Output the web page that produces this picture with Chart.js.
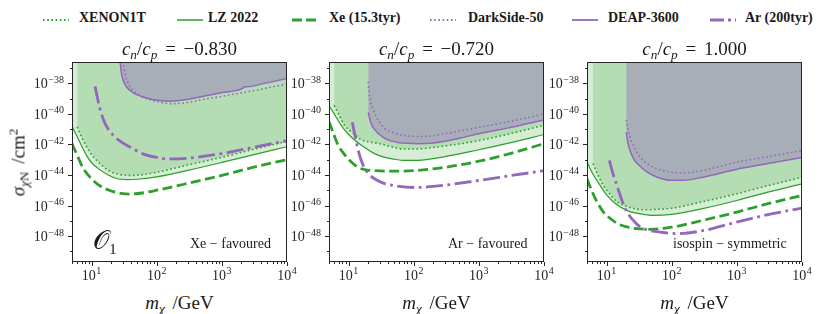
<!DOCTYPE html>
<html lang="en">
<head>
<meta charset="UTF-8" />
<title>O1 exclusion limits vs isospin ratio</title>
<script src="https://cdn.jsdelivr.net/npm/chart.js"></script>
<style>
  body { margin: 0; width: 830px; height: 314px; background: #fff; position: relative; overflow: hidden;
         font-family: 'Liberation Serif', 'DejaVu Serif', serif; color: #1a1a1a; }
  .abs { position: absolute; line-height: 1; white-space: nowrap; }
  .panel { position: absolute; top: 56px; }
  .leg { font-weight: bold; font-size: 14px; top: 11px; }
  .ttl { font-size: 19px; word-spacing: 3px; width: 215px; text-align: center; top: 39px; }
  .xl { font-size: 19px; word-spacing: 3px; width: 215px; text-align: center; top: 293px; }
  .note { font-size: 14px; top: 237px; }
  sub, sup { font-size: 70%; line-height: 0; }
  sub { vertical-align: -0.3em; }
  sup { vertical-align: 0.55em; }
</style>
</head>
<body>
<div id="root"></div>
<script>
  // each point: [m_chi in GeV, log10(sigma / cm^2)]
  // panel 1: cn/cp = -0.830
  const xenon1t_1 = [[6,-40.85],[7,-41.5],[9.4,-42.5],[13,-43.2],[19,-43.75],[28,-43.98],[40,-44.03],[60,-43.98],[100,-43.82],[300,-43.35],[1000,-42.84],[3000,-42.33],[10000,-41.8]];
  const lz_1 = [[5,-40.8],[6,-41.5],[8.3,-42.7],[10,-43.2],[13.3,-43.65],[18,-44.0],[25,-44.25],[35,-44.3],[50,-44.28],[100,-44.12],[300,-43.7],[1000,-43.18],[3000,-42.68],[10000,-42.15]];
  const xe_1 = [[5,-41.95],[6,-42.7],[7.5,-43.6],[10,-44.25],[13.3,-44.7],[20,-45.05],[30,-45.22],[40,-45.25],[60,-45.18],[100,-45.0],[300,-44.55],[1000,-44.03],[3000,-43.5],[10000,-43.0]];
  const darkside_1 = [[29,-36.0],[30.7,-36.75],[33,-37.45],[36,-37.95],[41,-38.37],[50,-38.7],[62,-38.92],[85,-39.12],[112,-39.24],[160,-39.33],[250,-39.3],[520,-39.05],[1000,-38.85],[2140,-38.6],[10000,-38.05]];
  const deap_1 = [[25.5,-36.0],[27.3,-36.63],[29,-37.45],[31.5,-37.95],[34.6,-38.26],[40,-38.5],[46.5,-38.69],[60,-38.88],[79,-39.02],[110,-39.13],[160,-39.17],[300,-39.05],[520,-38.85],[1000,-38.6],[2100,-38.33],[2250,-38.22],[2500,-38.22],[4000,-38.05],[10000,-37.68]];
  const ar_1 = [[11.3,-38.2],[13.3,-39.6],[16,-40.6],[21.5,-41.4],[30,-41.9],[40,-42.2],[60,-42.6],[100,-42.85],[150,-42.95],[300,-42.9],[1000,-42.6],[3000,-42.2],[10000,-41.75]];

  // panel 2: cn/cp = -0.720
  const xenon1t_2 = [[6,-39.45],[7,-40.0],[8.7,-40.75],[12,-41.3],[15.7,-41.7],[22,-41.85],[30,-41.95],[45,-42.15],[70,-42.3],[100,-42.3],[300,-42.1],[1000,-41.75],[3000,-41.3],[10000,-40.75]];
  const lz_2 = [[5,-39.45],[6,-40.0],[7.7,-40.75],[10,-41.35],[15.7,-42.05],[25,-42.6],[36,-42.85],[50,-42.97],[72,-43.05],[100,-43.05],[300,-42.8],[1000,-42.35],[3000,-41.9],[10000,-41.35]];
  const xe_2 = [[5,-40.5],[6,-41.4],[6.9,-42.05],[9,-42.75],[11,-43.15],[14,-43.5],[17.6,-43.65],[25,-43.72],[36,-43.75],[60,-43.75],[100,-43.72],[300,-43.5],[1000,-43.1],[3000,-42.6],[10000,-41.95]];
  const darkside_2 = [[20,-37.9],[20.5,-38.5],[21.5,-39.1],[23.6,-39.67],[26,-40.1],[30,-40.55],[36,-40.95],[50,-41.25],[72,-41.42],[146,-41.48],[300,-41.3],[1000,-40.88],[3000,-40.5],[10000,-40.0]];
  const deap_2 = [[20,-39.9],[21,-40.3],[22.5,-40.7],[26,-41.1],[32,-41.45],[40,-41.7],[57,-41.87],[80,-41.93],[115,-41.95],[200,-41.9],[500,-41.6],[1000,-41.3],[3000,-40.9],[10000,-40.4]];
  const ar_2 = [[11.4,-40.55],[12.5,-41.4],[13.9,-42.3],[15.5,-43.0],[17.6,-43.55],[21,-44.0],[25,-44.25],[35,-44.55],[51,-44.7],[103,-44.82],[200,-44.75],[1000,-44.36],[3000,-44.05],[10000,-43.72]];

  // panel 3: cn/cp = 1.000
  const xenon1t_3 = [[6.2,-43.25],[7,-43.8],[9,-44.7],[11,-45.2],[14.4,-45.75],[20,-46.05],[28,-46.22],[37,-46.28],[60,-46.25],[100,-46.18],[300,-45.75],[1000,-45.23],[3000,-44.7],[10000,-44.15]];
  const lz_3 = [[5,-43.15],[6,-43.85],[8,-44.7],[10,-45.3],[14.4,-45.95],[20,-46.3],[26,-46.47],[40,-46.6],[52,-46.65],[100,-46.58],[300,-46.2],[1000,-45.67],[3000,-45.12],[10000,-44.58]];
  const xe_3 = [[5,-44.25],[6,-45.1],[7.1,-45.75],[9,-46.45],[11.4,-46.85],[15,-47.2],[20.4,-47.4],[30,-47.52],[47,-47.56],[100,-47.42],[300,-46.97],[1000,-46.43],[3000,-45.88],[10000,-45.35]];
  const darkside_3 = [[20,-40.39],[21.7,-41.2],[25.9,-42.07],[32.7,-42.84],[46.6,-43.38],[84,-43.77],[151,-43.86],[300,-43.7],[1000,-43.16],[3000,-42.8],[10000,-42.4]];
  const deap_3 = [[20,-41.2],[21,-41.8],[22.5,-42.3],[26,-42.94],[33,-43.45],[41.5,-43.8],[60,-44.15],[94,-44.35],[150,-44.35],[300,-44.15],[1000,-43.62],[3000,-43.25],[10000,-42.85]];
  const ar_3 = [[11,-43.05],[12.5,-43.9],[14.4,-44.69],[17,-45.6],[20.4,-46.4],[26,-47.0],[33,-47.41],[45,-47.62],[66,-47.74],[120,-47.84],[300,-47.65],[1000,-47.08],[3000,-46.6],[10000,-46.17]];

  const seriesNames = ['XENON1T', 'LZ 2022', 'Xe (15.3tyr)', 'DarkSide-50', 'DEAP-3600', 'Ar (200tyr)'];
  const ratios = ['\u22120.830', '\u22120.720', '1.000'];
  const notes = ['Xe \u2212 favoured', 'Ar \u2212 favoured', 'isospin \u2212 symmetric'];
  const yTickExps = [-48, -46, -44, -42, -40, -38];
  const xTickExps = [1, 2, 3, 4];

  const panelData = [
    [xenon1t_1, lz_1, xe_1, darkside_1, deap_1, ar_1],
    [xenon1t_2, lz_2, xe_2, darkside_2, deap_2, ar_2],
    [xenon1t_3, lz_3, xe_3, darkside_3, deap_3, ar_3]
  ];

  const GREEN = '#2ca02c', PURPLE = '#9467bd';
  const styles = [
    { color: GREEN, width: 1.6, dash: [1.6, 2.6], fill: 'rgba(44,160,44,0.2)', leg: '1.6,2.6' },
    { color: GREEN, width: 1.2, dash: [], fill: 'rgba(44,160,44,0.2)', leg: '' },
    { color: GREEN, width: 2.8, dash: [10, 4.5], leg: '10,4' },
    { color: PURPLE, width: 1.6, dash: [1.6, 2.6], leg: '1.6,2.6' },
    { color: PURPLE, width: 1.5, dash: [], fill: 'rgba(148,103,189,0.4)', leg: '' },
    { color: PURPLE, width: 2.8, dash: [17, 4.5, 2.8, 4.5], leg: '14,4,3,4' }
  ];
  // draw order: index 0 ends up on top in chart.js
  const drawOrder = [4, 3, 5, 0, 1, 2];

  const plotLefts = [72, 329, 587];
  const AXW = 62, PLOTW = 215, PADR = 16;
  const root = document.getElementById('root');

  function addText(cls, html, left, extra) {
    const d = document.createElement('div');
    d.className = 'abs ' + cls;
    d.innerHTML = html;
    d.style.left = left + 'px';
    if (extra) Object.assign(d.style, extra);
    root.appendChild(d);
    return d;
  }

  // legend
  const legMarkX = [43, 177, 292, 430, 572, 710];
  const legTextX = [79, 208, 329, 468, 608, 745];
  seriesNames.forEach((name, i) => {
    const s = styles[i];
    addText('', `<svg width="26" height="10"><line x1="0" y1="5" x2="26" y2="5" stroke="${s.color}" stroke-width="${Math.min(s.width + 0.3, 3)}" ${s.leg ? 'stroke-dasharray="' + s.leg + '"' : ''}/></svg>`, legMarkX[i], { top: '12px' });
    addText('leg', name, legTextX[i]);
  });

  function drawPow(ctx, exp, x, y, mode) {
    const e = (exp < 0 ? '\u2212' : '') + Math.abs(exp);
    ctx.font = '14px "Liberation Serif"';
    const w1 = ctx.measureText('10').width;
    ctx.font = '10px "Liberation Serif"';
    const w2 = ctx.measureText(e).width;
    const left = mode === 'right' ? x - w1 - w2 - 0.5 : x - (w1 + w2 + 0.5) / 2;
    const b1 = mode === 'right' ? y + 5 : y + 18;
    const b2 = mode === 'right' ? y - 0.5 : y + 12;
    ctx.textAlign = 'left';
    ctx.textBaseline = 'alphabetic';
    ctx.font = '14px "Liberation Serif"';
    ctx.fillText('10', left, b1);
    ctx.font = '10px "Liberation Serif"';
    ctx.fillText(e, left + w1 + 0.5, b2);
  }

  // frame, outward ticks and 10^n labels, positioned by the chart's own scales
  const frame = {
    id: 'frame',
    afterDraw(chart) {
      const { ctx, chartArea: a, scales: { x, y } } = chart;
      ctx.save();
      ctx.strokeStyle = '#262626';
      ctx.fillStyle = '#262626';
      ctx.lineWidth = 1;
      ctx.strokeRect(a.left + 0.5, a.top + 0.5, a.right - a.left - 1, a.bottom - a.top - 1);
      ctx.beginPath();
      for (let d = -50; d <= -36; d++) {
        const py = y.getPixelForValue(Math.pow(10, d));
        if (py < a.top - 0.5 || py > a.bottom + 0.5) continue;
        const yy = Math.round(py) + 0.5;
        ctx.moveTo(a.left, yy);
        ctx.lineTo(a.left - (d % 2 === 0 ? 4 : 2), yy);
      }
      for (let n = 0; n <= 4; n++) {
        for (let k = 1; k <= 9; k++) {
          const v = k * Math.pow(10, n);
          if (v < x.min || v > x.max) continue;
          const px = Math.round(x.getPixelForValue(v)) + 0.5;
          ctx.moveTo(px, a.bottom);
          ctx.lineTo(px, a.bottom + (k === 1 ? 4 : 2));
        }
      }
      ctx.stroke();
      yTickExps.forEach(d => drawPow(ctx, d, a.left - 8, y.getPixelForValue(Math.pow(10, d)), 'right'));
      xTickExps.forEach(d => drawPow(ctx, d, x.getPixelForValue(Math.pow(10, d)), a.bottom, 'center'));
      ctx.restore();
    }
  };

  panelData.forEach((series, p) => {
    const box = document.createElement('div');
    box.className = 'panel';
    box.style.left = (plotLefts[p] - AXW) + 'px';
    const cv = document.createElement('canvas');
    cv.width = AXW + PLOTW + PADR;
    cv.height = 236;
    box.appendChild(cv);
    root.appendChild(box);

    const datasets = drawOrder.map(i => {
      const s = styles[i];
      return {
        label: seriesNames[i],
        data: series[i].map(([m, lg]) => ({ x: m, y: Math.pow(10, lg) })),
        borderColor: s.color,
        borderWidth: s.width,
        borderDash: s.dash,
        fill: s.fill ? 'end' : false,
        backgroundColor: s.fill || 'transparent',
        pointRadius: 0,
        cubicInterpolationMode: 'monotone',
        clip: 0
      };
    });

    new Chart(cv, {
      type: 'line',
      data: { datasets },
      options: {
        responsive: false,
        animation: false,
        layout: { padding: { left: 0, top: 6, right: PADR, bottom: 0 } },
        plugins: {
          legend: { display: false },
          tooltip: { enabled: false },
          filler: { drawTime: 'beforeDatasetsDraw' }
        },
        scales: {
          x: {
            type: 'logarithmic', min: 5, max: 1e4,
            ticks: { display: false }, grid: { display: false }, border: { display: false },
            afterFit: s => { s.height = 30; }
          },
          y: {
            type: 'logarithmic', min: 2e-50, max: 2.5e-37,
            ticks: { display: false }, grid: { display: false }, border: { display: false },
            afterFit: s => { s.width = AXW; }
          }
        }
      },
      plugins: [frame]
    });

    const cx = plotLefts[p];
    addText('ttl', `<i>c</i><sub><i>n</i></sub>/<i>c</i><sub><i>p</i></sub> = ${ratios[p]}`, cx);
    addText('xl', `<i>m</i><sub><i>\u03c7</i></sub> /GeV`, cx);
  });

  addText('note', notes[0], 190);
  addText('note', notes[1], 448);
  addText('note', notes[2], 673);
  addText('', '\ud835\udcaa<sub style="font-size:60%">1</sub>', 93, { fontSize: '26px', top: '228px' });
  addText('', '<i>\u03c3</i><sub><i>\u03c7</i>N</sub> /cm<sup>2</sup>', -82,
    { width: '200px', textAlign: 'center', fontSize: '19px', wordSpacing: '3px', top: '153px', transform: 'rotate(-90deg)' });
</script>
</body>
</html>
